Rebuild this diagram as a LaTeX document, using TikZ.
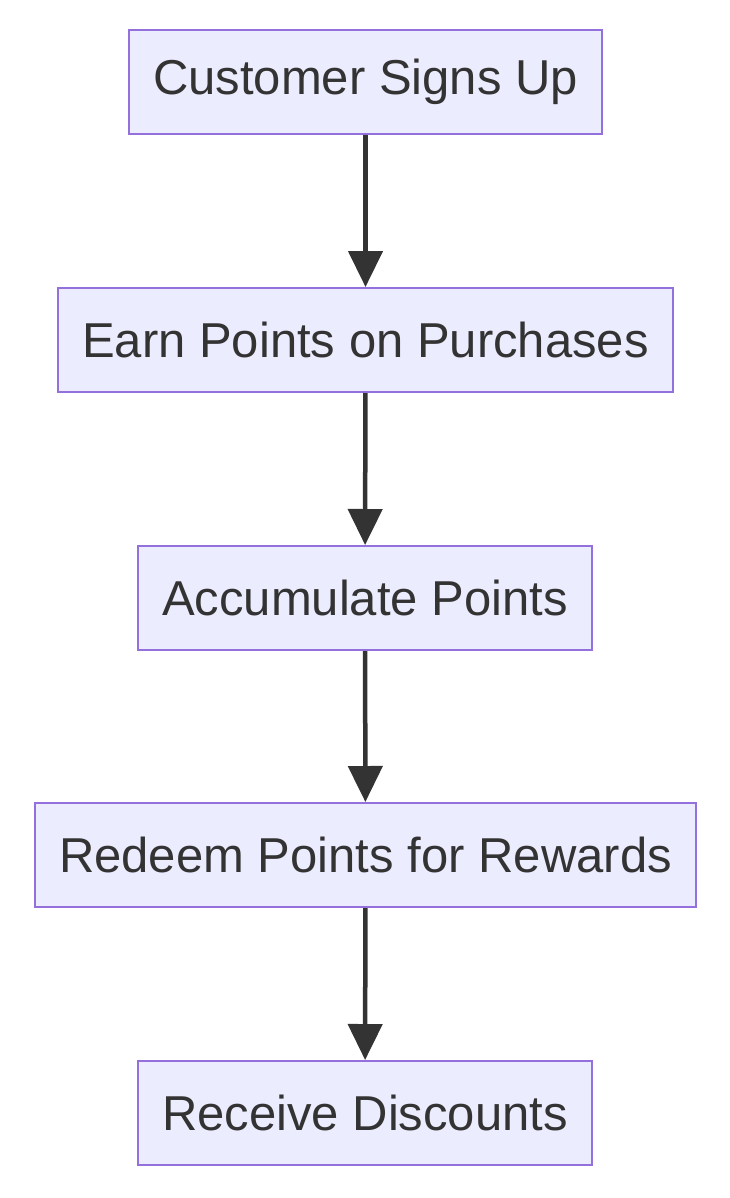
\documentclass[tikz,border=0pt]{standalone}
\usepackage{fontspec}
\setmainfont{Liberation Sans}
\usetikzlibrary{arrows.meta}
\definecolor{boxfill}{HTML}{ECECFF}
\definecolor{boxdraw}{HTML}{9370DB}
\definecolor{arr}{HTML}{333333}
\begin{document}
\begin{tikzpicture}[x=1pt,y=1pt,
  box/.style={draw=boxdraw,fill=boxfill,line width=2pt,inner sep=0pt,text=arr,font=\fontsize{49}{58}\selectfont},
  link/.style={draw=arr,line width=4.5pt,-{Triangle[length=36pt,width=34pt]}}]
\useasboundingbox (0,0) rectangle (730,-1198);
\node[box,minimum width=473pt,minimum height=104pt] (a) at (365.5,-82) {Customer Signs Up};
\node[box,minimum width=615pt,minimum height=104pt] (b) at (365.5,-340) {Earn Points on Purchases};
\node[box,minimum width=454pt,minimum height=104pt] (c) at (365,-598) {Accumulate Points};
\node[box,minimum width=661pt,minimum height=104pt] (d) at (365.5,-855) {Redeem Points for Rewards};
\node[box,minimum width=454pt,minimum height=104pt] (e) at (365,-1113) {Receive Discounts};
\draw[link] (a) -- (b);
\draw[link] (b) -- (c);
\draw[link] (c) -- (d);
\draw[link] (d) -- (e);
\end{tikzpicture}
\end{document}
